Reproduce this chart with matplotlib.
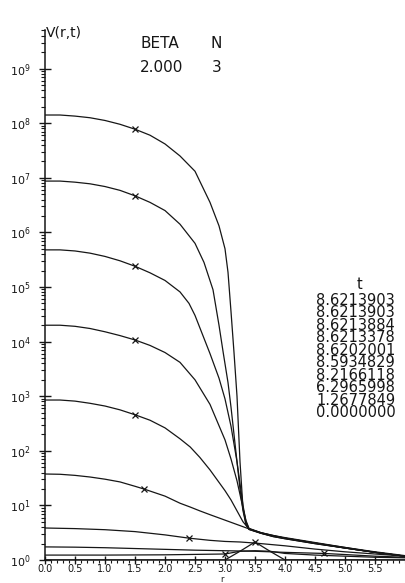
import numpy as np
import matplotlib
matplotlib.use("Agg")
import matplotlib.pyplot as plt
from matplotlib.ticker import FixedLocator, MultipleLocator, NullFormatter, FixedFormatter

# ---------------- data ----------------
t_values = ["8.6213903", "8.6213903", "8.6213884", "8.6213378", "8.6202001",
            "8.5934829", "8.2166118", "6.2965998", "1.2677849", "0.0000000"]

tail_r = [3.6, 3.8, 4.0, 4.5, 5.0, 5.5, 6.0]

r1 = [0, 0.25, 0.5, 0.75, 1.0, 1.25, 1.5, 1.75, 2.0, 2.25, 2.5, 2.75, 2.9, 3.0,
      3.05, 3.1, 3.15, 3.2, 3.25, 3.3, 3.35, 3.4] + tail_r
logV1 = [8.15, 8.15, 8.13, 8.10, 8.05, 7.98, 7.89, 7.78, 7.62, 7.40, 7.12, 6.55, 6.12, 5.70,
         5.27, 4.55, 3.80, 3.00, 1.80, 0.95, 0.65, 0.56, 0.49, 0.43, 0.39, 0.30, 0.22, 0.14, 0.07]

r2 = [0, 0.25, 0.5, 0.75, 1.0, 1.25, 1.5, 1.75, 2.0, 2.25, 2.5, 2.65, 2.8, 2.9, 2.97,
      3.05, 3.1, 3.15, 3.2, 3.25, 3.3, 3.35, 3.4] + tail_r
logV2 = [6.94, 6.94, 6.92, 6.89, 6.84, 6.77, 6.67, 6.55, 6.40, 6.15, 5.80, 5.45, 4.95, 4.30, 3.80,
         3.25, 2.80, 2.30, 1.80, 1.30, 0.90, 0.65, 0.56, 0.49, 0.43, 0.39, 0.30, 0.22, 0.14, 0.07]

r3 = [0, 0.25, 0.5, 0.75, 1.0, 1.25, 1.5, 1.75, 2.0, 2.25, 2.4, 2.5, 2.6, 2.75, 2.9,
      3.0, 3.1, 3.2, 3.25, 3.3, 3.35, 3.4] + tail_r
logV3 = [5.68, 5.68, 5.66, 5.62, 5.56, 5.48, 5.38, 5.26, 5.12, 4.91, 4.70, 4.48, 4.20, 3.78, 3.33,
         2.95, 2.45, 1.80, 1.40, 1.00, 0.70, 0.57, 0.49, 0.44, 0.40, 0.31, 0.22, 0.14, 0.07]

r4 = [0, 0.25, 0.5, 0.75, 1.0, 1.25, 1.5, 1.75, 2.0, 2.25, 2.5, 2.75, 3.0, 3.1, 3.2,
      3.3, 3.35, 3.4] + tail_r
logV4 = [4.30, 4.30, 4.28, 4.24, 4.18, 4.11, 4.03, 3.93, 3.80, 3.62, 3.30, 2.85, 2.20, 1.85, 1.45,
         0.95, 0.72, 0.58, 0.50, 0.44, 0.40, 0.31, 0.22, 0.14, 0.07]

r5 = [0, 0.25, 0.5, 0.75, 1.0, 1.25, 1.5, 1.75, 2.0, 2.25, 2.42, 2.58, 2.75, 3.0, 3.1,
      3.2, 3.3, 3.4] + tail_r
logV5 = [2.93, 2.93, 2.91, 2.87, 2.82, 2.75, 2.66, 2.56, 2.42, 2.22, 2.07, 1.88, 1.65, 1.27, 1.10,
         0.90, 0.70, 0.57, 0.50, 0.45, 0.40, 0.31, 0.23, 0.14, 0.07]

r6 = [0, 0.25, 0.5, 0.75, 1.0, 1.25, 1.5, 1.65, 2.0, 2.25, 2.42, 2.58, 2.75, 3.0, 3.2,
      3.4] + tail_r
logV6 = [1.575, 1.57, 1.55, 1.52, 1.48, 1.43, 1.35, 1.30, 1.17, 1.04, 0.97, 0.90, 0.83, 0.73, 0.65,
         0.57, 0.50, 0.45, 0.41, 0.32, 0.23, 0.15, 0.08]

r7 = [0, 0.5, 1.0, 1.5, 2.0, 2.4, 2.75, 3.0, 3.25, 3.5, 4.0, 4.5, 5.0, 5.5, 6.0]
logV7 = [0.586, 0.575, 0.555, 0.52, 0.46, 0.40, 0.36, 0.34, 0.33, 0.31, 0.26, 0.20, 0.15, 0.11, 0.07]

r8 = [0, 0.5, 1.0, 1.5, 2.0, 2.5, 3.0, 3.5, 4.0, 4.65, 5.0, 5.5, 6.0]
logV8 = [0.24, 0.235, 0.225, 0.21, 0.195, 0.18, 0.17, 0.16, 0.14, 0.12, 0.10, 0.07, 0.05]

r9 = [0, 1.0, 2.0, 3.0, 3.25, 3.5, 3.75, 4.0, 4.5, 5.0, 5.5, 6.0]
logV9 = [0.09, 0.09, 0.095, 0.11, 0.16, 0.17, 0.16, 0.12, 0.09, 0.07, 0.05, 0.04]

r10 = [0, 3.0, 3.25, 3.5, 3.75, 4.0, 6.0]
logV10 = [0.0, 0.0, 0.16, 0.33, 0.16, 0.0, 0.0]

curves_r = [r1, r2, r3, r4, r5, r6, r7, r8, r9, r10]
curves_logV = [logV1, logV2, logV3, logV4, logV5, logV6, logV7, logV8, logV9, logV10]
marker_r = [1.5, 1.5, 1.5, 1.5, 1.5, 1.65, 2.4, 4.65, 3.0, 3.5]

beta_text = "2.000"
n_text = "3"

# ---------------- figure ----------------
W, H = 406, 583
fig = plt.figure(figsize=(W / 100, H / 100), dpi=100)

def px(x, y):
    return x / W, 1 - y / H

x0, x1 = 45, 405
y0, y1 = 560, 30
ax = fig.add_axes([x0 / W, 1 - y0 / H, (x1 - x0) / W, (y0 - y1) / H])

ink = "#161616"
for r, lv, mr in zip(curves_r, curves_logV, marker_r):
    V = 10 ** np.array(lv)
    idx = int(np.argmin(np.abs(np.array(r) - mr)))
    ax.plot(r, V, color=ink, lw=0.9, marker="x", markevery=[idx],
            markersize=5, markeredgewidth=0.9, clip_on=True)

ax.set_yscale("log")
ax.set_xlim(0, 6.0)
ax.set_ylim(1, 10 ** ((y0 - y1) / 54.6))

for s in ("top", "right"):
    ax.spines[s].set_visible(False)
for s in ("left", "bottom"):
    ax.spines[s].set_linewidth(1.1)
    ax.spines[s].set_color(ink)

# y ticks
majors = [10.0 ** k for k in range(10)]
ax.yaxis.set_major_locator(FixedLocator(majors))
ax.yaxis.set_major_formatter(FixedFormatter([r"$\mathregular{10^{%d}}$" % k for k in range(10)]))
minors = [m * 10.0 ** k for k in range(10) for m in range(2, 10)]
ax.yaxis.set_minor_locator(FixedLocator(minors))
ax.yaxis.set_minor_formatter(NullFormatter())
ax.tick_params(axis="y", which="major", direction="inout", length=9, width=1.0,
               labelsize=8, pad=6, colors=ink)
ax.tick_params(axis="y", which="minor", direction="out", length=3, width=0.8, colors=ink)

# x ticks
xt = [0.5 * i for i in range(12)]
ax.xaxis.set_major_locator(FixedLocator(xt))
ax.xaxis.set_major_formatter(FixedFormatter(["%.1f" % v for v in xt]))
ax.xaxis.set_minor_locator(MultipleLocator(0.1))
ax.tick_params(axis="x", which="major", direction="inout", length=6, width=1.0,
               labelsize=7, pad=0, colors=ink)
ax.tick_params(axis="x", which="minor", direction="out", length=2, width=0.8, colors=ink)

ax.patch.set_alpha(0)

# texts
fs = 11
lfs = 10.5
fig.text(*px(46, 33), "V(r,t)", fontsize=10, ha="left", va="center", color=ink)
fig.text(*px(140, 43), "BETA", fontsize=fs, ha="left", va="center", color=ink)
fig.text(*px(140, 67), beta_text, fontsize=fs, ha="left", va="center", color=ink)
fig.text(*px(211, 43), "N", fontsize=fs, ha="left", va="center", color=ink)
fig.text(*px(212, 67), n_text, fontsize=fs, ha="left", va="center", color=ink)

fig.text(*px(360, 284), "t", fontsize=lfs, ha="center", va="center", color=ink)
fig.text(*px(316, 293), "\n".join(t_values), fontsize=lfs, ha="left", va="top",
         linespacing=0.787, color=ink)

fig.text(*px(222, 580), "r", fontsize=6, ha="center", va="center", color=ink)

fig.savefig("out.png", dpi=100)
